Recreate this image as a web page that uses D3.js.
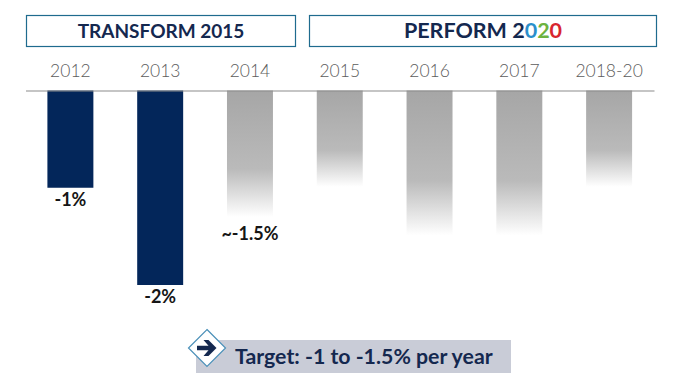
<!DOCTYPE html>
<html>
<head>
<meta charset="utf-8">
<script src="https://cdn.jsdelivr.net/npm/d3@7"></script>
<style>
  html, body { margin: 0; padding: 0; background: #fff; }
  svg { display: block; font-family: Lato, "Open Sans", sans-serif; }
  .axis path { stroke: #8c8c8c; stroke-width: 1.2; }
  .axis text { font-size: 17.5px; fill: #5c5c5c; font-weight: 300; font-family: Lato, sans-serif; }
</style>
</head>
<body>
<div id="chart"></div>
<script>
// Yearly change (% per year)
const years = ["2012", "2013", "2014", "2015", "2016", "2017", "2018-20"];
const values = [-1, -2, -1.3, -0.99, -1.49, -1.49, -0.99];
const actual = [true, true, false, false, false, false, false];
const valueLabels = ["-1%", "-2%", "~-1.5%", "", "", "", ""];

const headerTitles = ["TRANSFORM 2015", "PERFORM "];
const performDigits = ["2", "0", "2", "0"];
const digitColors = ["#14284f", "#2b8fcb", "#6db33f", "#d8262f"];
const targetText = "Target: -1 to -1.5% per year";

const width = 682, height = 375;
const NAVY = "#03265a";

const svg = d3.select("#chart").append("svg")
  .attr("width", width)
  .attr("height", height);

const defs = svg.append("defs");
const fade = defs.append("linearGradient")
  .attr("id", "fade")
  .attr("x1", 0).attr("y1", 0).attr("x2", 0).attr("y2", 1);
fade.append("stop").attr("offset", "0%").attr("stop-color", "#a6a6a6");
fade.append("stop").attr("offset", "62%").attr("stop-color", "#bababa");
fade.append("stop").attr("offset", "100%").attr("stop-color", "#ffffff");

const x = d3.scaleBand()
  .domain(years)
  .range([25.5, 654])
  .paddingInner(0.488)
  .paddingOuter(0.244);

const y = d3.scaleLinear()
  .domain([0, -2])
  .range([90.5, 285]);

// bars first so the axis line sits on top of them
svg.selectAll(".bar")
  .data(years)
  .enter()
  .append("rect")
  .attr("class", "bar")
  .attr("x", d => x(d))
  .attr("y", y(0))
  .attr("width", x.bandwidth())
  .attr("height", (d, i) => y(values[i]) - y(0))
  .attr("fill", (d, i) => actual[i] ? NAVY : "url(#fade)");

const axis = d3.axisTop(x).tickSize(0).tickPadding(14);
svg.append("g")
  .attr("class", "axis")
  .attr("transform", `translate(0,${y(0)})`)
  .call(axis);

// value labels, faded bars get a bit more room
svg.selectAll(".value-label")
  .data(years)
  .enter()
  .append("text")
  .attr("class", "value-label")
  .attr("x", d => x(d) + x.bandwidth() / 2)
  .attr("y", (d, i) => y(values[i]) + (actual[i] ? 18 : 23))
  .attr("text-anchor", "middle")
  .style("font-size", "18px")
  .style("font-weight", 700)
  .style("fill", "#161616")
  .text((d, i) => valueLabels[i]);

// header boxes
const headerBoxes = [
  { x: 26.5, w: 269, title: headerTitles[0] },
  { x: 309.5, w: 347, title: headerTitles[1] }
];

svg.selectAll(".header-box")
  .data(headerBoxes)
  .enter()
  .append("rect")
  .attr("class", "header-box")
  .attr("x", d => d.x)
  .attr("y", 15.5)
  .attr("width", d => d.w)
  .attr("height", 31)
  .attr("fill", "#fff")
  .attr("stroke", "#1f6b8e")
  .attr("stroke-width", 1.2);

const headerText = svg.selectAll(".header-text")
  .data(headerBoxes)
  .enter()
  .append("text")
  .attr("class", "header-text")
  .attr("x", d => d.x + d.w / 2)
  .attr("y", 37.5)
  .attr("text-anchor", "middle")
  .style("font-size", "19px")
  .style("font-weight", 700)
  .style("fill", "#14284f")
  .text(d => d.title);

// coloured digits of PERFORM 2020
const performText = headerText.filter((d, i) => i === 1)
  .style("font-size", "21.5px");
performText.selectAll("tspan")
  .data(performDigits)
  .enter()
  .append("tspan")
  .attr("fill", (d, i) => digitColors[i])
  .style("fill", (d, i) => digitColors[i])
  .text(d => d);

// target strip
svg.append("rect")
  .attr("x", 196)
  .attr("y", 340)
  .attr("width", 315)
  .attr("height", 33)
  .attr("fill", "#c9ccd7");

svg.append("text")
  .attr("x", 235)
  .attr("y", 363.5)
  .style("font-size", "21.3px")
  .style("font-weight", 700)
  .style("fill", "#14284f")
  .text(targetText);

// diamond with the arrow
const marker = svg.append("g").attr("transform", "translate(207,348)");
marker.append("path")
  .attr("d", "M0,-18.5L18.5,0L0,18.5L-18.5,0Z")
  .attr("fill", "#fff")
  .attr("stroke", "#4a90b8")
  .attr("stroke-width", 1.2);
marker.append("path")
  .attr("d", "M-10,-2.2H1.5L-3.5,-8H1.5L9.5,0L1.5,8H-3.5L1.5,2.2H-10Z")
  .attr("fill", "#14284f");
</script>
</body>
</html>
